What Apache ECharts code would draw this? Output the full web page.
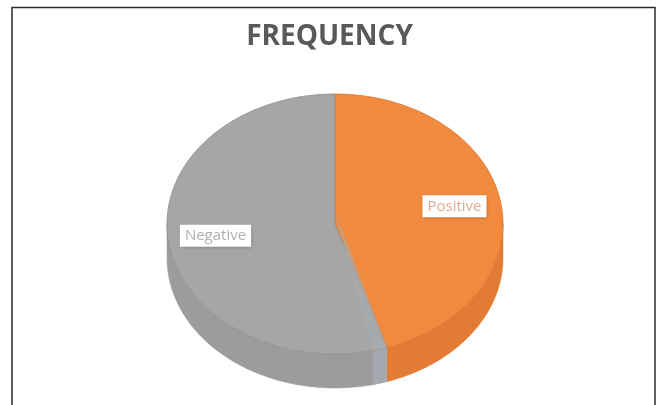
<!DOCTYPE html>
<html>
<head>
<meta charset="utf-8">
<script src="https://cdn.jsdelivr.net/npm/echarts@6/dist/echarts.min.js"></script>
<style>
  html, body { margin: 0; padding: 0; background: #ffffff; }
  #chart { width: 659px; height: 405px; }
</style>
</head>
<body>
<div id="chart"></div>
<script>
// Sentiment counts shown as a tilted pie
const categories = ['Positive', 'Negative'];
const values = [45, 55];

// Per-slice colours: top face, side wall, outline, label text
const palette = {
  top:   ['#ef8a3f', '#a6a6a6'],
  side:  ['#e27b33', '#9c9c9c'],
  edge:  ['#d8722c', '#8e8e8e'],
  label: ['#e0ab90', '#b0b0b0']
};

// Tilted-disc geometry (pixels)
const disc = { cx: 335, cy: 224, rx: 168, ry: 130, depth: 34, labelR: 0.72 };

const total = values.reduce((a, b) => a + b, 0);
const starts = [];
values.reduce((acc, v) => { starts.push(acc); return acc + v; }, 0);

function pt(theta, r, dy) {
  return [disc.cx + disc.rx * r * Math.sin(theta),
          disc.cy - disc.ry * r * Math.cos(theta) + (dy || 0)];
}

function arc(a0, a1, r, dy) {
  const pts = [];
  const n = Math.max(2, Math.ceil(Math.abs(a1 - a0) / (Math.PI / 180)));
  for (let k = 0; k <= n; k++) pts.push(pt(a0 + (a1 - a0) * k / n, r, dy));
  return pts;
}

function sideWall(a0, a1) {
  const lo = Math.max(a0, Math.PI / 2);
  const hi = Math.min(a1, Math.PI * 1.5);
  if (lo >= hi) return null;
  return arc(lo, hi, 1, 0).concat(arc(hi, lo, 1, disc.depth));
}

function renderSlice(params, api) {
  const i = params.dataIndex;
  const v = api.value(1);
  const a0 = starts[i] / total * Math.PI * 2;
  const a1 = a0 + v / total * Math.PI * 2;
  const children = [];

  const wall = sideWall(a0, a1);
  if (wall) {
    children.push({
      type: 'polygon', z2: 1,
      shape: { points: wall },
      style: { fill: palette.side[i], stroke: palette.side[i], lineWidth: 0.5 }
    });
  }

  children.push({
    type: 'polygon', z2: 10,
    shape: { points: [pt(0, 0)].concat(arc(a0, a1, 1, 0)) },
    style: { fill: palette.top[i], stroke: palette.edge[i], lineWidth: 0.8 }
  });

  // thin seam where a slice boundary faces the viewer
  if (i > 0 && a0 > Math.PI / 2 && a0 < Math.PI * 1.5) {
    const s1 = a0 + Math.PI / 180 * 5;
    children.push({
      type: 'polygon', z2: 11,
      shape: { points: [pt(0, 0.1)].concat(arc(a0, s1, 1, 0)) },
      style: { fill: '#a9adb3', opacity: 0.6 }
    });
    const seamWall = sideWall(a0, s1);
    if (seamWall) {
      children.push({
        type: 'polygon', z2: 2,
        shape: { points: seamWall },
        style: { fill: '#a6aab0' }
      });
    }
  }

  const mid = (a0 + a1) / 2;
  const lp = pt(mid, disc.labelR, 0);
  children.push({
    type: 'text', z2: 100,
    x: lp[0], y: lp[1] - 3,
    style: {
      text: categories[i],
      fill: palette.label[i],
      font: '15px "Open Sans", sans-serif',
      align: 'center', verticalAlign: 'middle',
      backgroundColor: '#ffffff',
      padding: [4, 5, 3, 5],
      shadowColor: 'rgba(0,0,0,0.25)', shadowBlur: 3, shadowOffsetX: 1, shadowOffsetY: 1
    }
  });

  return { type: 'group', children: children };
}

const chart = echarts.init(document.getElementById('chart'), null, { renderer: 'canvas' });
chart.setOption({
  animation: false,
  backgroundColor: '#ffffff',
  title: {
    text: 'FREQUENCY',
    left: 'center',
    top: 18,
    textStyle: { fontFamily: '"Open Sans", sans-serif', fontWeight: 'bold', fontSize: 28, color: '#595959' }
  },
  graphic: [{
    type: 'polyline',
    shape: { points: [[12, 420], [12, 7.5], [655, 7.5], [655, 420]] },
    style: { stroke: '#2b2b2b', lineWidth: 1.5, fill: null }
  }],
  series: [{
    type: 'custom',
    coordinateSystem: 'none',
    renderItem: renderSlice,
    data: categories.map((c, i) => [c, values[i]])
  }]
});
</script>
</body>
</html>
